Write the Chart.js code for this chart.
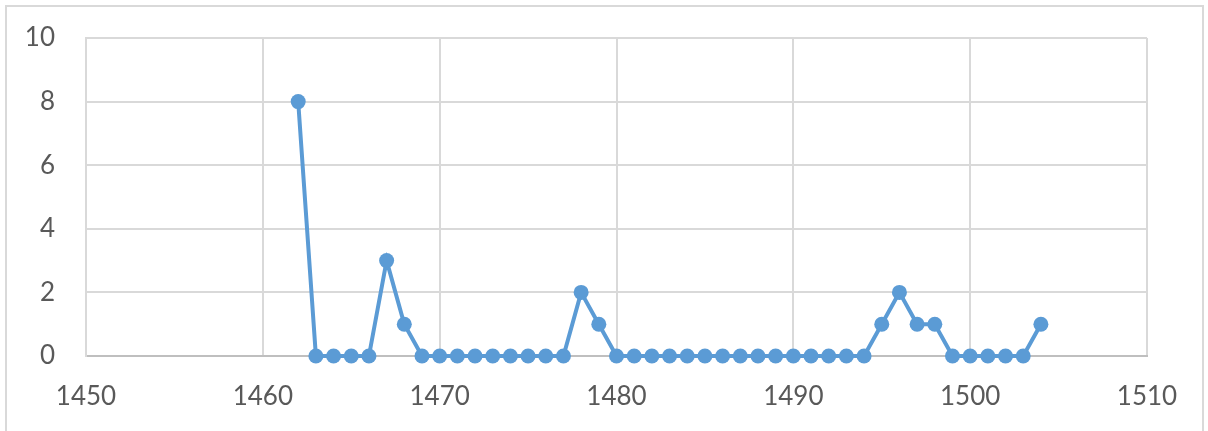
<!DOCTYPE html>
<html>
<head>
<meta charset="utf-8">
<script src="https://cdn.jsdelivr.net/npm/chart.js@4"></script>
<style>
  html, body { margin: 0; padding: 0; background: #fff; overflow: hidden; }
  #frame { position: absolute; left: 5px; top: 5px; width: 1199px; height: 460px; border: 2px solid #d9d9d9; box-sizing: border-box; }
  #wrap { position: absolute; left: 0; top: 0; width: 1208px; height: 431px; }
</style>
</head>
<body>
<div id="frame"></div>
<div id="wrap"><canvas id="chart" width="1208" height="431"></canvas></div>
<script>
// years and counts
const years = [1462, 1463, 1464, 1465, 1466, 1467, 1468, 1469, 1470, 1471, 1472, 1473, 1474, 1475, 1476, 1477,
    1478, 1479, 1480, 1481, 1482, 1483, 1484, 1485, 1486, 1487, 1488, 1489, 1490, 1491, 1492, 1493, 1494,
    1495, 1496, 1497, 1498, 1499, 1500, 1501, 1502, 1503, 1504];
const counts = [8, 0, 0, 0, 0, 3, 1, 0, 0, 0, 0, 0, 0, 0, 0, 0,
    2, 1, 0, 0, 0, 0, 0, 0, 0, 0, 0, 0, 0, 0, 0, 0, 0,
    1, 2, 1, 1, 0, 0, 0, 0, 0, 1];
const xMin = 1450, xMax = 1510, xStep = 10;
const yMin = 0, yMax = 10, yStep = 2;

const points = years.map((yr, i) => ({ x: yr, y: counts[i] }));
const tickFont = { family: 'Lato, "Open Sans", sans-serif', size: 26 };

new Chart(document.getElementById('chart').getContext('2d'), {
    type: 'line',
    data: {
        datasets: [{
            data: points,
            borderColor: '#5b9bd5',
            backgroundColor: '#5b9bd5',
            borderWidth: 4,
            pointRadius: 7.5,
            pointHoverRadius: 7.5,
            pointBorderWidth: 0,
            tension: 0,
            clip: false
        }]
    },
    options: {
        responsive: false,
        animation: false,
        layout: { padding: { left: 0, top: 38, right: 61, bottom: 0 } },
        plugins: { legend: { display: false }, tooltip: { enabled: false } },
        scales: {
            x: {
                type: 'linear',
                min: xMin, max: xMax,
                ticks: { stepSize: xStep, color: '#595959', font: tickFont, padding: 25, maxRotation: 0,
                    callback: (v) => String(v) },
                grid: { color: '#d9d9d9', lineWidth: 2, drawTicks: false },
                border: { color: '#bfbfbf', width: 2 },
                afterFit: (s) => { s.height = 75; }
            },
            y: {
                min: yMin, max: yMax,
                ticks: { stepSize: yStep, color: '#595959', font: tickFont, padding: 31 },
                grid: { color: '#d9d9d9', lineWidth: 2, drawTicks: false },
                border: { color: '#d9d9d9', width: 2 },
                // tick padding would otherwise push the plot top down
                afterFit: (s) => { s.width = 86; s.paddingTop = 0; }
            }
        }
    }
});
</script>
</body>
</html>
